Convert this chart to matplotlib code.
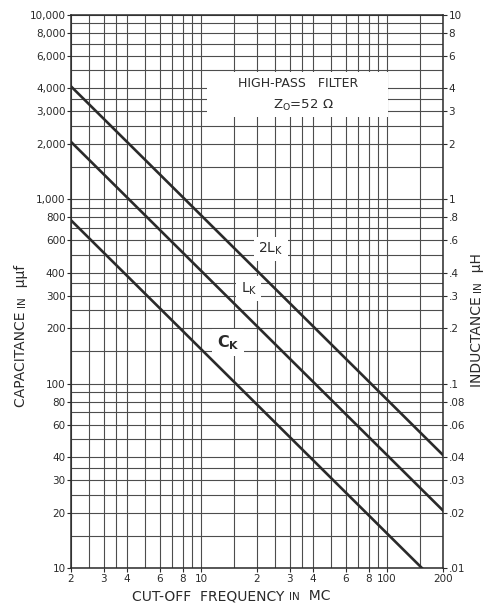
import matplotlib
matplotlib.use("Agg")
import matplotlib.pyplot as plt
from matplotlib.patches import Rectangle
from matplotlib.ticker import NullFormatter, NullLocator

# cut-off frequency in MC
freq = [2, 10, 100, 200]
# C_K in micro-micro-farads (left scale)
c_k = [770, 154, 15.4, 7.7]
# L_K and 2L_K in micro-henries (right scale)
l_k = [2.05, 0.41, 0.041, 0.0205]
l_2k = [4.1, 0.82, 0.082, 0.041]

x_major = [2, 3, 4, 6, 8, 10, 20, 30, 40, 60, 80, 100, 200]
x_labels = ['2', '3', '4', '6', '8', '10', '2', '3', '4', '6', '8', '100', '200']
x_minor = [2.5, 3.5, 5, 7, 9, 15, 25, 35, 50, 70, 90, 150]

c_major = [10, 20, 30, 40, 60, 80, 100, 200, 300, 400, 600, 800,
           1000, 2000, 3000, 4000, 6000, 8000, 10000]
c_labels = ['10', '20', '30', '40', '60', '80', '100', '200', '300', '400', '600', '800',
            '1,000', '2,000', '3,000', '4,000', '6,000', '8,000', '10,000']
c_minor = [15, 25, 35, 50, 70, 90, 150, 250, 350, 500, 700, 900,
           1500, 2500, 3500, 5000, 7000, 9000]

l_major = [.01, .02, .03, .04, .06, .08, .1, .2, .3, .4, .6, .8, 1, 2, 3, 4, 6, 8, 10]
l_labels = ['.01', '.02', '.03', '.04', '.06', '.08', '.1', '.2', '.3', '.4', '.6', '.8',
            '1', '2', '3', '4', '6', '8', '10']

ink = '#2a2a2a'
plt.rcParams['font.family'] = ['DejaVu Sans']

fig = plt.figure(figsize=(4.88, 6.04), dpi=100)
ax = fig.add_axes([71 / 488, 36 / 604, 372 / 488, 553 / 604])
ax.set_xscale('log')
ax.set_yscale('log')
ax.set_xlim(2, 200)
ax.set_ylim(10, 10000)

ax.set_xticks(x_major)
ax.set_xticklabels(x_labels)
ax.set_xticks(x_minor, minor=True)
ax.set_yticks(c_major)
ax.set_yticklabels(c_labels)
ax.set_yticks(c_minor, minor=True)
ax.xaxis.set_minor_formatter(NullFormatter())
ax.yaxis.set_minor_formatter(NullFormatter())
ax.tick_params(which='major', length=3, width=0.8, color=ink, labelsize=7.5,
               labelcolor=ink, pad=1)
ax.tick_params(which='minor', length=0)
ax.set_axisbelow(True)
ax.grid(True, which='both', color='#4d4d4d', linewidth=0.8)
for s in ax.spines.values():
    s.set_color(ink)
    s.set_linewidth(1.1)

ax2 = ax.twinx()
ax2.set_yscale('log')
ax2.set_ylim(0.01, 10)
ax2.set_yticks(l_major)
ax2.set_yticklabels(l_labels)
ax2.yaxis.set_minor_locator(NullLocator())
ax2.yaxis.set_minor_formatter(NullFormatter())
ax2.tick_params(length=3, width=0.8, color=ink, labelsize=7.5, labelcolor=ink, pad=1)
for s in ax2.spines.values():
    s.set_visible(False)

ax.plot(freq, c_k, color=ink, linewidth=1.9, zorder=3)
ax2.plot(freq, l_k, color=ink, linewidth=1.9, zorder=3)
ax2.plot(freq, l_2k, color=ink, linewidth=1.9, zorder=3)

# title box
ax.add_patch(Rectangle((0.366, 0.816), 0.486, 0.081, transform=ax.transAxes,
                       facecolor='white', edgecolor='none', zorder=1))
ax.text(0.610, 0.877, 'HIGH-PASS   FILTER', transform=ax.transAxes, ha='center',
        va='center', fontsize=9, color=ink, zorder=2)
ax.text(0.624, 0.837, r'Z$_\mathregular{O}$=52 Ω', transform=ax.transAxes, ha='center',
        va='center', fontsize=9.5, color=ink, zorder=2)

box = dict(facecolor='white', edgecolor='none', pad=3)
ax.text(0.538, 0.577, r'2L$_\mathregular{K}$', transform=ax.transAxes, ha='center',
        va='center', fontsize=10, color=ink, bbox=box, zorder=2)
ax.text(0.478, 0.505, r'L$_\mathregular{K}$', transform=ax.transAxes, ha='center',
        va='center', fontsize=10, color=ink, bbox=box, zorder=2)
ax.text(0.422, 0.407, r'C$_\mathregular{K}$', transform=ax.transAxes, ha='center',
        va='center', fontsize=11.5, fontweight='bold', color=ink, bbox=box, zorder=2)

# axis titles with small-caps "IN"
t = fig.text(132 / 488, 4 / 604, 'CUT-OFF  FREQUENCY ', fontsize=10, color=ink,
             va='baseline')
t = ax.annotate('IN', xy=(1, 0), xycoords=t, xytext=(0, 0.6), textcoords='offset points',
                fontsize=7.5, color=ink, va='bottom')
ax.annotate('  MC', xy=(1, 0), xycoords=t, xytext=(0, -0.6), textcoords='offset points',
            fontsize=10, color=ink, va='bottom')

t = fig.text(28 / 488, 197 / 604, 'CAPACITANCE ', fontsize=10, color=ink,
             rotation=90, ha='right', va='bottom')
t = ax.annotate('IN', xy=(1, 1), xycoords=t, xytext=(-0.6, 0), textcoords='offset points',
                fontsize=7.5, color=ink, rotation=90, ha='right', va='bottom')
ax.annotate('  μμf', xy=(1, 1), xycoords=t, xytext=(0.6, 0), textcoords='offset points',
            fontsize=10, color=ink, rotation=90, ha='right', va='bottom')

t = fig.text(484 / 488, 217 / 604, 'INDUCTANCE ', fontsize=10, color=ink,
             rotation=90, ha='right', va='bottom')
t = ax.annotate('IN', xy=(1, 1), xycoords=t, xytext=(-0.6, 0), textcoords='offset points',
                fontsize=7.5, color=ink, rotation=90, ha='right', va='bottom')
ax.annotate('  μH', xy=(1, 1), xycoords=t, xytext=(0.6, 0), textcoords='offset points',
            fontsize=10, color=ink, rotation=90, ha='right', va='bottom')

fig.savefig('out.png', dpi=100)
